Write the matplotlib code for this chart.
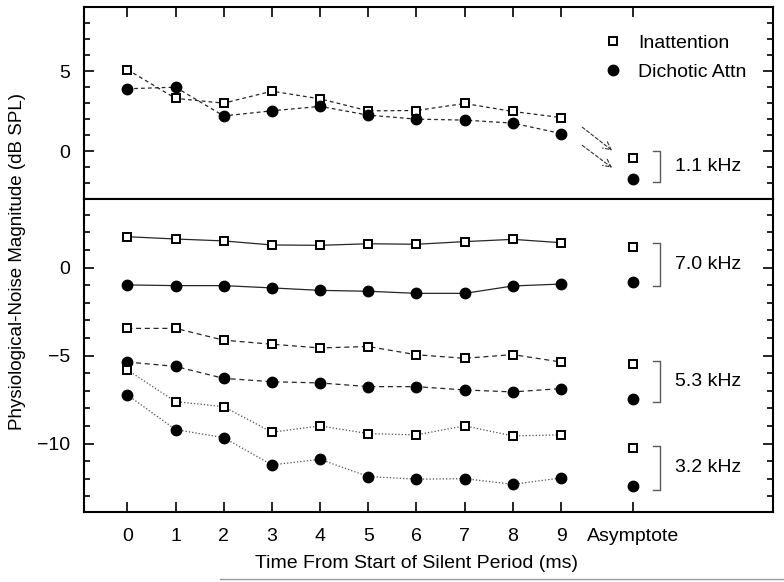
import numpy as np
import matplotlib.pyplot as plt
from matplotlib.lines import Line2D
from matplotlib.ticker import MultipleLocator

plt.rcParams['font.family'] = ['Liberation Sans', 'DejaVu Sans']
plt.rcParams['font.size'] = 14

# time points (ms) and asymptote position
times = np.arange(10)
asym_x = 10.5
xtick_labels = [str(t) for t in times] + ['Asymptote']

# 1.1 kHz (top panel)
inatt_11 = [5.1, 3.3, 3.0, 3.75, 3.27, 2.52, 2.54, 2.98, 2.48, 2.1]
dich_11 = [3.9, 4.0, 2.2, 2.52, 2.8, 2.25, 2.0, 1.94, 1.75, 1.1]
asym_11 = [-0.46, -1.73]          # inattention, dichotic

# 7.0 kHz
inatt_70 = [1.76, 1.63, 1.52, 1.29, 1.27, 1.36, 1.33, 1.48, 1.61, 1.42]
dich_70 = [-0.98, -1.02, -1.02, -1.15, -1.29, -1.34, -1.46, -1.46, -1.04, -0.93]
asym_70 = [1.19, -0.83]

# 5.3 kHz
inatt_53 = [-3.45, -3.45, -4.12, -4.35, -4.56, -4.48, -4.95, -5.15, -4.94, -5.36]
dich_53 = [-5.36, -5.61, -6.29, -6.48, -6.55, -6.76, -6.76, -6.95, -7.06, -6.87]
asym_53 = [-5.45, -7.44]

# 3.2 kHz
inatt_32 = [-5.81, -7.61, -7.9, -9.35, -8.99, -9.43, -9.5, -8.99, -9.56, -9.5]
dich_32 = [-7.23, -9.2, -9.66, -11.21, -10.89, -11.87, -12.02, -11.99, -12.31, -11.95]
asym_32 = [-10.26, -12.4]

# brackets: (top, bottom) and labels
bracket_11 = (0.0, -1.94)
brackets_low = [(1.42, -1.02), (-5.28, -7.65), (-10.11, -12.63)]
bracket_labels_low = ['7.0 kHz', '5.3 kHz', '3.2 kHz']

# dashed arrows toward asymptote (start, end)
arrows_11 = [((9.44, 1.5), (10.06, 0.04)), ((9.44, 0.36), (10.06, -1.04))]


def draw_pair(ax, inatt, dich, asym, ls, dashes=None, color='0.15'):
    kw = dict(color=color, lw=0.9, ls=ls)
    if dashes is not None:
        kw['dashes'] = dashes
    ax.plot(times, inatt, marker='s', ms=6, mfc='white', mec='black', mew=1.4, **kw)
    ax.plot(times, dich, marker='o', ms=7.5, mfc='black', mec='black', **kw)
    ax.plot([asym_x], [asym[0]], ls='none', marker='s', ms=6, mfc='white', mec='black', mew=1.4)
    ax.plot([asym_x], [asym[1]], ls='none', marker='o', ms=7.5, mfc='black', mec='black')


def draw_bracket(ax, span, label):
    top, bot = span
    ax.plot([10.9, 11.06, 11.06, 10.9], [top, top, bot, bot], color='0.35', lw=1.0)
    ax.text(11.36, (top + bot) / 2, label, ha='left', va='center', fontsize=14)


def style_axis(ax, top_panel):
    ax.set_xlim(-0.9, 13.4)
    ax.yaxis.set_major_locator(MultipleLocator(5))
    ax.yaxis.set_minor_locator(MultipleLocator(1))
    ax.set_xticks(list(times) + [asym_x])
    ax.tick_params(axis='y', which='both', direction='in', left=True, right=True, pad=10)
    ax.tick_params(axis='y', which='major', length=7, width=1.2)
    ax.tick_params(axis='y', which='minor', length=4.5, width=1.2)
    ax.tick_params(axis='x', which='major', direction='in', length=7, width=1.2,
                   top=top_panel, bottom=not top_panel, labelbottom=not top_panel, pad=11)
    for s in ax.spines.values():
        s.set_linewidth(1.5)


fig = plt.figure(figsize=(7.84, 5.82), dpi=100)
ax_top = fig.add_axes([0.1071, 0.658, 0.8789, 0.3295])
ax_bot = fig.add_axes([0.1071, 0.1198, 0.8789, 0.5382])

# top panel: 1.1 kHz
draw_pair(ax_top, inatt_11, dich_11, asym_11, '--', dashes=(3, 2.5))
draw_bracket(ax_top, bracket_11, '1.1 kHz')
for start, end in arrows_11:
    ax_top.annotate('', xy=end, xytext=start,
                    arrowprops=dict(arrowstyle='->', ls=(0, (3, 2)), lw=0.8,
                                    color='0.2', shrinkA=0, shrinkB=0))
ax_top.set_ylim(-3, 9)
style_axis(ax_top, True)
ax_top.set_xticklabels([])

handles = [Line2D([], [], ls='none', marker='s', ms=6, mfc='white', mec='black', mew=1.4),
           Line2D([], [], ls='none', marker='o', ms=7.5, mfc='black', mec='black')]
ax_top.legend(handles, ['Inattention', 'Dichotic Attn'], loc='upper left',
              bbox_to_anchor=(0.753, 0.86), frameon=False, borderpad=0,
              borderaxespad=0, handlelength=1.0, handletextpad=0.8,
              labelspacing=0.6, fontsize=14)

# bottom panel
draw_pair(ax_bot, inatt_70, dich_70, asym_70, '-')
draw_pair(ax_bot, inatt_53, dich_53, asym_53, '--', dashes=(4, 3))
draw_pair(ax_bot, inatt_32, dich_32, asym_32, ':', color='0.3')
for span, lab in zip(brackets_low, bracket_labels_low):
    draw_bracket(ax_bot, span, lab)
ax_bot.set_ylim(-13.9, 3.9)
style_axis(ax_bot, False)
ax_bot.set_xticklabels(xtick_labels)
ax_bot.set_xlabel('Time From Start of Silent Period (ms)', fontsize=14)
ax_bot.xaxis.set_label_coords(0.4826, -0.135)

fig.text(18 / 784, 1 - 261 / 582, 'Physiological-Noise Magnitude (dB SPL)',
         rotation=90, ha='center', va='center', fontsize=13.5)

fig.add_artist(Line2D([220 / 784, 1.0], [3 / 582, 3 / 582], transform=fig.transFigure,
                      color='0.6', lw=1.0))

fig.savefig('out.png', dpi=100)
